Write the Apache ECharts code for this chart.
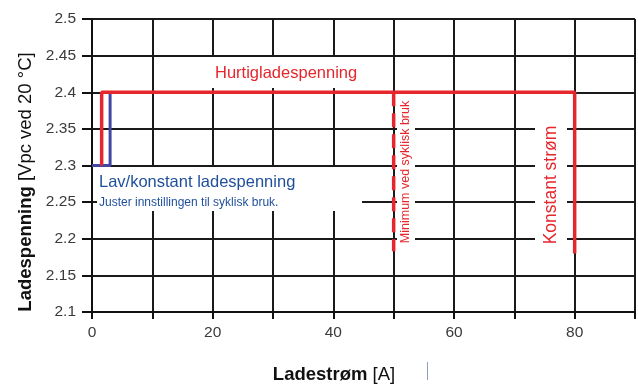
<!DOCTYPE html>
<html>
<head>
<meta charset="utf-8">
<script src="https://cdn.jsdelivr.net/npm/echarts@6/dist/echarts.min.js"></script>
<style>
html,body{margin:0;padding:0;background:#fff;}
#c{width:638px;height:384px;}
</style>
</head>
<body>
<div id="c"></div>
<script>
// Axis ranges and ticks
const xMin = 0, xMax = 90, xStep = 10;
const yMin = 2.1, yMax = 2.5, yStep = 0.05;

// Series: [charging current A, voltage V/cell]
const fastChargeLine = [[1.6, 2.3], [1.6, 2.4], [80, 2.4], [80, 2.18]];
const floatLine = [[0, 2.3], [3, 2.3], [3, 2.4]];
const cyclicMinLine = [[50, 2.4], [50, 2.183]];

// Texts
const yTitleBold = 'Ladespenning';
const yTitleRest = ' [Vpc ved 20 °C]';
const xTitleBold = 'Ladestrøm';
const xTitleRest = ' [A]';
const fastLabel = 'Hurtigladespenning';
const floatLabel = 'Lav/konstant ladespenning';
const floatNote = 'Juster innstillingen til syklisk bruk.';
const cyclicLabel = 'Minimum ved syklisk bruk';
const constLabel = 'Konstant strøm';

const RED = '#e5262c';
const BLUE = '#4347a3';
const BLUE_TEXT = '#1f4f9c';
const FONT = 'Liberation Sans, Arial, sans-serif';

const chart = echarts.init(document.getElementById('c'), null, {renderer: 'canvas'});

const gridLine = {show: true, lineStyle: {color: '#1a1a1a', width: 2}};

chart.setOption({
  backgroundColor: '#ffffff',
  animation: false,
  grid: {left: 92, right: 1, top: 19, bottom: 72, containLabel: false},
  xAxis: {
    type: 'value', min: xMin, max: xMax, interval: xStep,
    axisLine: {show: true, lineStyle: {color: '#111', width: 2}},
    axisTick: {show: true, length: 7, lineStyle: {color: '#111', width: 2}},
    splitLine: gridLine,
    axisLabel: {
      margin: 13, color: '#3a3a3a', fontSize: 15.5, fontFamily: FONT,
      formatter: v => (Math.round(v) % 20 === 0 ? String(Math.round(v)) : '')
    }
  },
  yAxis: {
    type: 'value', min: yMin, max: yMax, interval: yStep,
    axisLine: {show: true, lineStyle: {color: '#111', width: 2}},
    axisTick: {show: true, length: 10, lineStyle: {color: '#111', width: 2}},
    splitLine: gridLine,
    axisLabel: {
      margin: 16, color: '#3a3a3a', fontSize: 15.5, fontFamily: FONT,
      formatter: v => String(+(+v).toFixed(2))
    }
  },
  graphic: [
    // white label backgrounds
    {type: 'rect', z: 50, shape: {x: 205, y: 57, width: 158, height: 31}, style: {fill: '#fff'}},
    {type: 'rect', z: 50, shape: {x: 97, y: 167, width: 265, height: 44}, style: {fill: '#fff'}},
    {type: 'rect', z: 50, shape: {x: 397, y: 94, width: 18, height: 157}, style: {fill: '#fff'}},
    {type: 'rect', z: 50, shape: {x: 535, y: 100, width: 32, height: 151}, style: {fill: '#fff'}},
    // annotations
    {type: 'text', z: 60, x: 215, y: 73, style: {text: fastLabel, fill: RED, font: '16.5px ' + FONT, textAlign: 'left', textVerticalAlign: 'middle'}},
    {type: 'text', z: 60, x: 99, y: 182, style: {text: floatLabel, fill: BLUE_TEXT, font: '16.5px ' + FONT, textAlign: 'left', textVerticalAlign: 'middle'}},
    {type: 'text', z: 60, x: 99, y: 203, style: {text: floatNote, fill: BLUE_TEXT, font: '12px ' + FONT, textAlign: 'left', textVerticalAlign: 'middle'}},
    {type: 'text', z: 60, x: 406, y: 172, rotation: Math.PI / 2, style: {text: cyclicLabel, fill: RED, font: '12.5px ' + FONT, textAlign: 'center', textVerticalAlign: 'middle'}},
    {type: 'text', z: 60, x: 551, y: 185, rotation: Math.PI / 2, style: {text: constLabel, fill: RED, font: '17.5px ' + FONT, textAlign: 'center', textVerticalAlign: 'middle'}},
    // axis titles
    {type: 'text', z: 60, x: 26, y: 182, rotation: Math.PI / 2, style: {
      text: '{b|' + yTitleBold + '}{r|' + yTitleRest + '}',
      textAlign: 'center', textVerticalAlign: 'middle', fill: '#111',
      rich: {
        b: {fontWeight: 'bold', fontSize: 18.5, fontFamily: FONT, fill: '#111'},
        r: {fontWeight: 'normal', fontSize: 18.5, fontFamily: FONT, fill: '#111'}
      }
    }},
    {type: 'text', z: 60, x: 334, y: 375, style: {
      text: '{b|' + xTitleBold + '}{r|' + xTitleRest + '}',
      textAlign: 'center', textVerticalAlign: 'middle', fill: '#111',
      rich: {
        b: {fontWeight: 'bold', fontSize: 18.5, fontFamily: FONT, fill: '#111'},
        r: {fontWeight: 'normal', fontSize: 18.5, fontFamily: FONT, fill: '#111'}
      }
    }},
    {type: 'rect', z: 60, shape: {x: 427, y: 362, width: 1, height: 18}, style: {fill: '#8fa0b8'}}
  ],
  series: [
    {type: 'line', name: 'float', data: floatLine, symbol: 'none', z: 3,
      lineStyle: {color: BLUE, width: 3}},
    {type: 'line', name: 'fast', data: fastChargeLine, symbol: 'none', z: 4,
      lineStyle: {color: RED, width: 3.5}},
    {type: 'line', name: 'cyclicMin', data: cyclicMinLine, symbol: 'none', z: 4,
      lineStyle: {color: RED, width: 3.5, type: [14, 7]}}
  ]
});
</script>
</body>
</html>
